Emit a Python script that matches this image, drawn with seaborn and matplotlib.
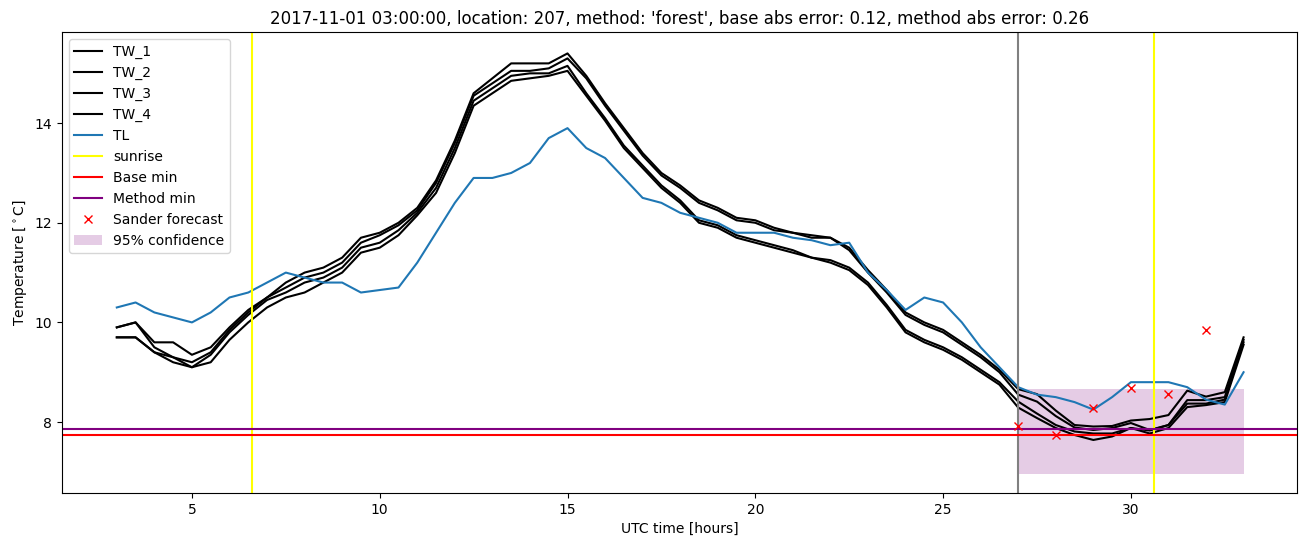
import numpy as np
import pandas as pd
import seaborn as sns
import matplotlib
matplotlib.use('Agg')
import matplotlib.pyplot as plt

# half-hourly readings, 03 UTC on day 0 to 09 UTC next day
hours = np.arange(3, 33.01, 0.5)

tw_1 = [9.9, 10.0, 9.6, 9.6, 9.35, 9.5, 9.9, 10.25, 10.5, 10.8, 11.0, 11.1, 11.3, 11.7, 11.8,
        12.0, 12.3, 12.85, 13.65, 14.6, 14.9, 15.2, 15.2, 15.2, 15.4,
        14.95, 14.4, 13.9, 13.4, 13.0, 12.75, 12.45, 12.3, 12.1, 12.05, 11.9, 11.8, 11.75, 11.7,
        11.5, 11.05, 10.65, 10.2, 10.0, 9.85, 9.6, 9.35, 9.05,
        8.66, 8.56, 8.23, 7.94, 7.91, 7.92, 8.03, 8.06, 8.14, 8.63, 8.51, 8.6, 9.7]
tw_2 = [9.9, 10.0, 9.5, 9.3, 9.2, 9.4, 9.85, 10.2, 10.5, 10.7, 10.9, 11.0, 11.2, 11.6, 11.75,
        11.95, 12.25, 12.8, 13.6, 14.55, 14.8, 15.05, 15.05, 15.1, 15.3,
        14.9, 14.35, 13.85, 13.35, 12.95, 12.7, 12.4, 12.25, 12.05, 12.0, 11.85, 11.8, 11.7, 11.7,
        11.45, 11.0, 10.6, 10.15, 9.95, 9.8, 9.55, 9.3, 9.0,
        8.55, 8.41, 8.12, 7.89, 7.84, 7.88, 7.98, 7.84, 7.94, 8.44, 8.44, 8.5, 9.65]
tw_3 = [9.7, 9.7, 9.4, 9.3, 9.1, 9.35, 9.8, 10.15, 10.45, 10.6, 10.8, 10.9, 11.1, 11.5, 11.6,
        11.85, 12.2, 12.7, 13.5, 14.45, 14.7, 14.95, 15.0, 15.0, 15.15,
        14.6, 14.1, 13.55, 13.15, 12.75, 12.45, 12.05, 11.95, 11.75, 11.65, 11.55, 11.45, 11.3, 11.25,
        11.1, 10.8, 10.35, 9.85, 9.65, 9.5, 9.3, 9.05, 8.8,
        8.41, 8.17, 7.94, 7.81, 7.77, 7.77, 7.88, 7.83, 7.94, 8.37, 8.37, 8.45, 9.6]
tw_4 = [9.7, 9.7, 9.4, 9.2, 9.1, 9.2, 9.65, 10.0, 10.3, 10.5, 10.6, 10.8, 11.0, 11.4, 11.5,
        11.75, 12.15, 12.6, 13.4, 14.35, 14.6, 14.85, 14.9, 14.95, 15.05,
        14.55, 14.05, 13.5, 13.1, 12.7, 12.4, 12.0, 11.9, 11.7, 11.6, 11.5, 11.4, 11.3, 11.2,
        11.05, 10.75, 10.3, 9.8, 9.6, 9.45, 9.25, 9.0, 8.75,
        8.29, 8.08, 7.88, 7.74, 7.64, 7.71, 7.88, 7.77, 7.88, 8.3, 8.34, 8.4, 9.55]
tl = [10.3, 10.4, 10.2, 10.1, 10.0, 10.2, 10.5, 10.6, 10.8, 11.0, 10.9, 10.8, 10.8, 10.6, 10.65,
      10.7, 11.2, 11.8, 12.4, 12.9, 12.9, 13.0, 13.2, 13.7, 13.9,
      13.5, 13.3, 12.9, 12.5, 12.4, 12.2, 12.1, 12.0, 11.8, 11.8, 11.8, 11.7, 11.65, 11.55,
      11.6, 11.0, 10.65, 10.25, 10.5, 10.4, 10.0, 9.5, 9.1,
      8.7, 8.55, 8.5, 8.4, 8.25, 8.5, 8.8, 8.8, 8.8, 8.7, 8.45, 8.35, 9.0]

sunrise = [6.6, 30.61]
forecast_start = 27.0
base_min = 7.74
method_min = 7.87
sander_hours = [27, 28, 29, 30, 31, 32]
sander_temp = [7.92, 7.74, 8.29, 8.69, 8.56, 9.84]
conf_hours = [27, 33]
conf_low = 6.95
conf_high = 8.67

df = pd.DataFrame({'hours': hours, 'TW_1': tw_1, 'TW_2': tw_2, 'TW_3': tw_3,
                   'TW_4': tw_4, 'TL': tl})

fig = plt.figure(figsize=(13.1, 5.47), dpi=100)
ax = fig.add_axes([0.0473, 0.0987, 0.9427, 0.8428])

for col in ['TW_1', 'TW_2', 'TW_3', 'TW_4']:
    sns.lineplot(data=df, x='hours', y=col, color='black', label=col, ax=ax)
sns.lineplot(data=df, x='hours', y='TL', color='tab:blue', label='TL', ax=ax)

ax.axvline(sunrise[0], color='yellow', label='sunrise')
ax.axvline(sunrise[1], color='yellow')
ax.axvline(forecast_start, color='grey')
ax.axhline(base_min, color='red', label='Base min')
ax.axhline(method_min, color='purple', label='Method min')
ax.plot(sander_hours, sander_temp, 'rx', label='Sander forecast')
ax.fill_between(conf_hours, conf_low, conf_high, color='purple', alpha=0.2,
                linewidth=0, label='95% confidence')

ax.set_xlim(1.54, 34.42)
ax.set_ylim(6.575, 15.83)
ax.set_xlabel('UTC time [hours]')
ax.set_ylabel('Temperature [$^\\circ$C]')
ax.set_title("2017-11-01 03:00:00, location: 207, method: 'forest', "
             "base abs error: 0.12, method abs error: 0.26")
ax.legend(loc='upper left')

fig.savefig('out.png', dpi=100)
